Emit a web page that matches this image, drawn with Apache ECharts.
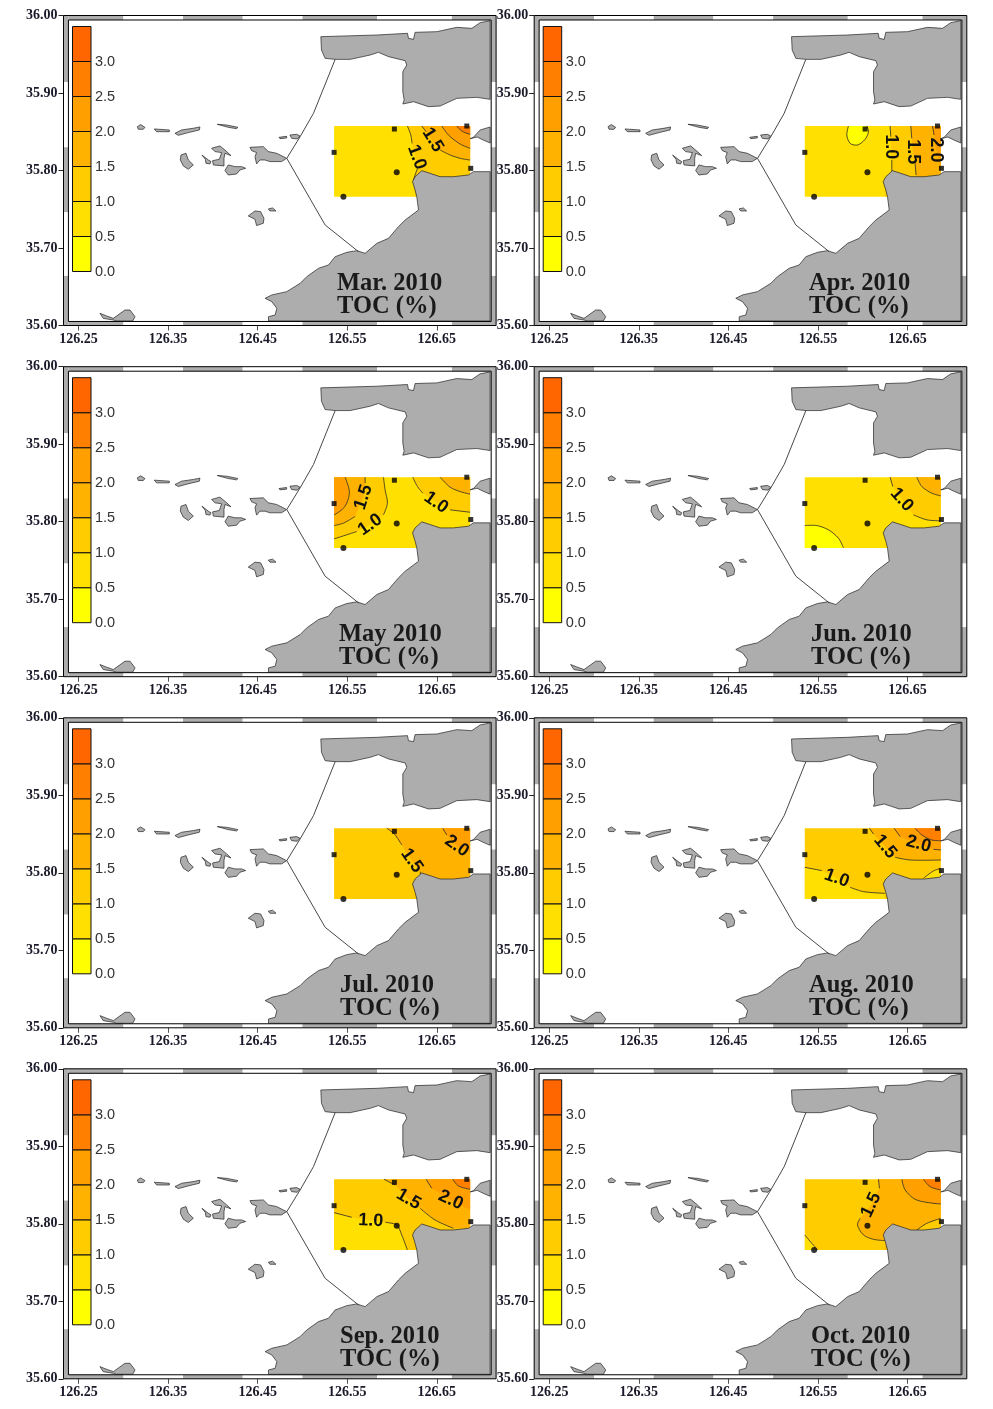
<!DOCTYPE html>
<html><head><meta charset="utf-8">
<style>html,body{margin:0;padding:0;background:#fff}#c{width:993px;height:1409px}</style>
<script src="https://cdn.jsdelivr.net/npm/echarts@6/dist/echarts.min.js"></script>
</head><body><div id="c"></div>
<script>
// Axis values
const lonMin = 126.2333, lonMax = 126.7161, latMin = 35.6, latMax = 36.0;
const lonTicks = [126.25, 126.35, 126.45, 126.55, 126.65];
const latTicks = [35.6, 35.7, 35.8, 35.9, 36.0];
// graduated frame breaks
const frameLons = [126.2388, 126.3002, 126.3667, 126.4333, 126.5, 126.5833, 126.6667, 126.7106];
const frameLats = [36.0, 35.914, 35.83, 35.746, 35.664, 35.6];
const innerLatN = 35.9942, innerLatS = 35.6052;
// colour scale
const scaleBreaks = [0, 0.5, 1, 1.5, 2, 2.5, 3, 3.5];
const scaleTicks = [0, 0.5, 1, 1.5, 2, 2.5, 3];
const scaleColors = ['#FFFF00', '#FFE000', '#FFCC00', '#FFB300', '#FF9F00', '#FF8000', '#FF6600'];
// land
const landNorth = [[126.7094,35.9933],[126.6983,35.9908],[126.689,35.9834],[126.6722,35.9847],[126.6499,35.9791],[126.6257,35.9783],[126.6239,35.9692],[126.6183,35.9705],[126.6172,35.977],[126.583,35.9748],[126.5205,35.9727],[126.5212,35.9555],[126.5253,35.9447],[126.5365,35.9434],[126.5532,35.9434],[126.5755,35.949],[126.5848,35.9525],[126.596,35.9469],[126.6146,35.9417],[126.6164,35.9361],[126.612,35.9275],[126.612,35.9017],[126.6135,35.891],[126.612,35.8858],[126.6239,35.8888],[126.6406,35.8824],[126.6536,35.8832],[126.6722,35.8931],[126.6946,35.8944],[126.7094,35.8918]];
const landEast = [[126.7094,35.8561],[126.6983,35.8523],[126.6908,35.8428],[126.6871,35.8411],[126.6949,35.8432],[126.7016,35.8394],[126.7094,35.8355]];
const landSouth = [[126.7094,35.7985],[126.6908,35.7985],[126.6853,35.7942],[126.6685,35.792],[126.6536,35.792],[126.6425,35.7963],[126.6332,35.7998],[126.6257,35.792],[126.6228,35.7856],[126.6257,35.7748],[126.6276,35.7662],[126.6295,35.749],[126.6146,35.7361],[126.6071,35.7275],[126.596,35.7125],[126.583,35.706],[126.5699,35.6931],[126.5606,35.6966],[126.5495,35.6944],[126.5365,35.6888],[126.529,35.6781],[126.5179,35.6738],[126.5048,35.663],[126.4974,35.6544],[126.4825,35.6437],[126.4658,35.6394],[126.4583,35.6351],[126.4658,35.6308],[126.4714,35.6222],[126.4695,35.6135],[126.4621,35.6114],[126.4621,35.6058],[126.7094,35.6058]];
const islands = [
 [[126.3157,35.8566],[126.3194,35.8592],[126.3242,35.8557],[126.3224,35.8532],[126.3168,35.8532]],
 [[126.3346,35.8536],[126.3514,35.8523],[126.3514,35.8501],[126.3372,35.8501]],
 [[126.3577,35.848],[126.3651,35.8523],[126.3782,35.8545],[126.3856,35.8562],[126.3849,35.8523],[126.3726,35.8489],[126.3614,35.8454]],
 [[126.4049,35.8596],[126.4154,35.8587],[126.428,35.8557],[126.4265,35.854],[126.4172,35.8557]],
 [[126.4738,35.8428],[126.4823,35.8441],[126.4823,35.842],[126.4749,35.8411]],
 [[126.486,35.8458],[126.4935,35.8467],[126.4972,35.8446],[126.4942,35.8407],[126.4879,35.8415]],
 [[126.4414,35.8299],[126.4563,35.8308],[126.4619,35.8244],[126.4712,35.8222],[126.4823,35.8157],[126.4767,35.8115],[126.4637,35.8115],[126.4581,35.8136],[126.4526,35.8136],[126.4488,35.8085],[126.447,35.8179],[126.4488,35.8231],[126.4433,35.8256]],
 [[126.3644,35.82],[126.37,35.8222],[126.3726,35.8136],[126.3782,35.8072],[126.3726,35.8016],[126.367,35.8059],[126.3637,35.8136]],
 [[126.3878,35.82],[126.3949,35.8136],[126.3979,35.8115],[126.3968,35.8085],[126.3923,35.8093],[126.3916,35.8145]],
 [[126.3986,35.8287],[126.4079,35.8317],[126.4154,35.8244],[126.4202,35.8192],[126.4135,35.8222],[126.4124,35.8157],[126.4124,35.8059],[126.4005,35.8072],[126.3997,35.8127],[126.4072,35.8145],[126.4098,35.8231],[126.4023,35.8244]],
 [[126.4135,35.8],[126.4172,35.8072],[126.4247,35.805],[126.4321,35.805],[126.4366,35.8029],[126.4302,35.8007],[126.4265,35.7955],[126.4172,35.7942]],
 [[126.4395,35.7414],[126.447,35.7478],[126.4533,35.7469],[126.457,35.7384],[126.4563,35.7319],[126.4488,35.7289],[126.447,35.7371]],
 [[126.4619,35.7504],[126.4667,35.7517],[126.4704,35.7478],[126.4637,35.7478]],
 [[126.274,35.6157],[126.2814,35.6123],[126.2889,35.6092],[126.3019,35.62],[126.3075,35.62],[126.3131,35.6114],[126.3105,35.6058],[126.2926,35.6058],[126.2889,35.6071],[126.2777,35.6092]]
];
const boundaryLine = [[126.5365,35.9434],[126.5123,35.8738],[126.4974,35.8437],[126.4825,35.8157],[126.5253,35.7297],[126.5625,35.6953]];
// stations
const stationsSquare = [[126.6026,35.8535],[126.5353,35.8234],[126.6834,35.8574],[126.6878,35.8028]];
const stationsRound = [[126.6052,35.7976],[126.5457,35.7662]];
// sampled field box
const W = 126.5353, E = 126.6871, N = 35.8574, S = 35.7662;
const panelNames = ['Mar. 2010','Apr. 2010','May 2010','Jun. 2010','Jul. 2010','Aug. 2010','Sep. 2010','Oct. 2010'];
const panelUnit = 'TOC (%)';
const panelBase = [1,1,1,1,2,2,2,2];
// contours: level index, contour points, closing corners, drawn segments, label
const marContours = [
 {lv:2,pts:[[126.6171,N],[126.6209,35.8458],[126.6223,35.835],[126.6257,35.8178],[126.6283,35.8028],[126.6238,35.7877],[126.6257,S]],close:[[E,S],[E,N]],segs:[[0,2],[4,5]],label:['1.0',126.6276,35.817,-70]},
 {lv:3,pts:[[126.6331,N],[126.638,35.8501],[126.6454,35.8372],[126.6536,35.8264],[126.6648,35.82],[126.6759,35.8157],[E,35.8135]],close:[[E,N]],segs:[[0,1],[3,6]],label:['1.5',126.6454,35.8393,-58]},
 {lv:4,pts:[[126.6555,N],[126.6629,35.8458],[126.6759,35.8342],[E,35.8286]],close:[[E,N]],segs:[[0,3]]},
 {lv:5,pts:[[126.6722,N],[126.6778,35.8509],[E,35.8466]],close:[[E,N]],segs:[[0,2]]}
];
const aprContours = [
 {lv:0,pts:[[126.584,N],[126.5822,35.8458],[126.5859,35.835],[126.5941,35.8329],[126.6026,35.8402],[126.6064,35.8501],[126.6045,N]],close:[],segs:[[0,6]]},
 {lv:2,pts:[[126.6305,N],[126.6313,35.8436],[126.6316,35.8264],[126.6324,35.8135],[126.6324,35.7985],[126.625,35.7877],[126.625,S]],close:[[E,S],[E,N]],segs:[[0,1],[3,4]],label:['1.0',126.6313,35.8307,-90]},
 {lv:3,pts:[[126.6536,N],[126.6547,35.8415],[126.6558,35.8243],[126.6584,35.8092],[126.6595,35.7942],[126.6595,S]],close:[[E,S],[E,N]],segs:[[0,1],[3,4]],label:['1.5',126.6558,35.8243,-90]},
 {lv:4,pts:[[126.6778,N],[126.6796,35.8458],[126.6819,35.8264],[E,35.8049]],close:[[E,N]],segs:[[0,1]],label:['2.0',126.6819,35.8264,-90]}
];
const mayContours = [
 {lv:2,pts:[[126.5904,N],[126.5922,35.8411],[126.5948,35.8239],[126.5904,35.8088],[126.5755,35.7959],[126.5606,35.7873],[126.5457,35.7817],[W,35.7778]],close:[[W,N]],segs:[[0,3],[5,7]],label:['1.0',126.5755,35.7959,35]},
 {lv:3,pts:[[126.5699,N],[126.5699,35.8497],[126.568,35.8316],[126.5587,35.8067],[126.5457,35.7981],[W,35.795]],close:[[W,N]],segs:[[0,1],[3,5]],label:['1.5',126.568,35.8316,72]},
 {lv:4,pts:[[126.5476,N],[126.5524,35.8389],[126.5494,35.8239],[126.5439,35.8153],[W,35.8088]],close:[[W,N]],segs:[[0,4]]},
 {lv:2,pts:[[126.6231,N],[126.6283,35.8454],[126.6343,35.8368],[126.6491,35.8247],[126.6648,35.8153],[E,35.8122]],close:[[E,N]],segs:[[0,2],[4,5]],label:['1.0',126.6491,35.8247,-35]},
 {lv:3,pts:[[126.6536,N],[126.6648,35.8445],[126.6759,35.8389],[E,35.8355]],close:[[E,N]],segs:[[0,3]]}
];
const junContours = [
 {lv:0,pts:[[W,35.795],[126.5487,35.795],[126.5617,35.7895],[126.5729,35.7787],[126.5785,S]],close:[[W,S]],segs:[[0,4]]},
 {lv:2,pts:[[126.6305,N],[126.6335,35.8454],[126.6436,35.8282],[126.6566,35.8088],[126.6715,35.8024],[E,35.8011]],close:[[E,N]],segs:[[0,1],[3,5]],label:['1.0',126.6436,35.8282,-48]},
 {lv:3,pts:[[126.6603,N],[126.6659,35.8454],[126.677,35.8368],[E,35.8333]],close:[[E,N]],segs:[[0,3]]}
];
const julContours = [
 {lv:3,pts:[[126.5941,N],[126.6026,35.8501],[126.6108,35.8359],[126.622,35.8157],[126.6313,35.8015],[126.6324,35.795],[126.6324,S]],close:[[E,S],[E,N]],segs:[[0,2],[4,5]],label:['1.5',126.622,35.8157,-55]},
 {lv:4,pts:[[126.6566,N],[126.661,35.8488],[126.6722,35.8346],[E,35.8273]],close:[[E,N]],segs:[[0,1]],label:['2.0',126.6722,35.8346,-35]}
];
const augContours = [
 {lv:1,pts:[[W,35.8071],[126.5543,35.8028],[126.571,35.7929],[126.5859,35.7813],[126.6008,35.7757],[126.625,35.7735],[126.625,S]],close:[[W,S]],segs:[[0,1],[3,5]],label:['1.0',126.571,35.7929,-20]},
 {lv:1,pts:[[126.6677,35.7929],[126.6789,35.8024],[E,35.8058]],close:[[E,35.7886],[126.6677,35.7886]],segs:[[0,2]]},
 {lv:3,pts:[[126.6075,N],[126.6119,35.8501],[126.625,35.8337],[126.6361,35.82],[126.6529,35.8165],[E,35.8165]],close:[[E,N]],segs:[[0,1],[3,5]],label:['1.5',126.625,35.8337,-50]},
 {lv:4,pts:[[126.635,N],[126.6417,35.8467],[126.6622,35.8372],[126.6789,35.8303],[E,35.8294]],close:[[E,N]],segs:[[0,1],[3,4]],label:['2.0',126.6622,35.8372,-15]},
 {lv:5,pts:[[126.6584,N],[126.6659,35.8488],[126.677,35.8423],[E,35.8415]],close:[[E,N]],segs:[[0,3]]}
];
const sepContours = [
 {lv:1,pts:[[W,35.8144],[126.555,35.8084],[126.5762,35.8041],[126.5922,35.8019],[126.6052,35.7985],[126.6108,35.7856],[126.6171,S]],close:[[W,S]],segs:[[0,1],[3,6]],label:['1.0',126.5762,35.8041,-3]},
 {lv:3,pts:[[126.5911,N],[126.6034,35.8501],[126.6183,35.8316],[126.6313,35.82],[126.648,35.8049],[126.6685,35.7942],[E,35.7942]],close:[[E,N]],segs:[[0,1],[3,5]],label:['1.5',126.6183,35.8316,-30]},
 {lv:4,pts:[[126.638,N],[126.6443,35.8458],[126.6655,35.8307],[E,35.8178]],close:[[E,N]],segs:[[0,1],[3,3]],label:['2.0',126.6655,35.8307,-25]},
 {lv:5,pts:[[126.6677,N],[126.6741,35.8488],[E,35.8445]],close:[[E,N]],segs:[[0,2]]}
];
const octContours = [
 {lv:1,pts:[[W,35.7856],[126.5431,35.7748],[126.5498,S]],close:[[W,S]],segs:[[0,2]]},
 {lv:3,pts:[[126.6175,N],[126.6186,35.8458],[126.6093,35.8243],[126.5971,35.8071],[126.5941,35.7985],[126.6008,35.7856],[126.6119,35.78],[126.625,35.7783],[126.625,S]],close:[[E,S],[E,N]],segs:[[0,1],[3,7]],label:['1.5',126.6093,35.8243,65]},
 {lv:2,pts:[[126.6603,35.792],[126.6715,35.8006],[E,35.8071]],close:[[E,35.7899],[126.6603,35.7899]],segs:[[0,2]]},
 {lv:4,pts:[[126.6436,N],[126.6473,35.8436],[126.6584,35.8316],[126.6733,35.8273],[E,35.8256]],close:[[E,N]],segs:[[0,4]]},
 {lv:5,pts:[[126.6677,N],[126.6752,35.8479],[E,35.8436]],close:[[E,N]],segs:[[0,2]]}
];
const panelContours = [marContours,aprContours,mayContours,junContours,julContours,augContours,sepContours,octContours];

// Layout
const colX = [63.5, 534.2], rowY = [15.5, 366.7, 717.8, 1068.8];
const mapW = 432.6, mapH = 310, barDX = 9, barDY = 11, barW = 18.5, barH = 245;
const titleLeft = [337, 809, 339, 811, 340, 809, 340, 811];
const SERIF = '"Liberation Serif","Times New Roman",serif', SANS = '"Liberation Sans",Arial,sans-serif';

const grids=[], xAxes=[], yAxes=[], series=[], titles=[];
function customSeries(gi, z, items, render){
  return {type:'custom',coordinateSystem:'cartesian2d',xAxisIndex:gi,yAxisIndex:gi,z,silent:true,clip:false,
    data:items.map((_, i)=>[lonTicks[0],latTicks[1]]),renderItem:(p,api)=>render(items[p.dataIndex],api)};
}
const polyEl=(pts,api,style)=>({type:'polygon',shape:{points:pts.map(c=>api.coord(c))},style});
const lineEl=(pts,api)=>({type:'polyline',shape:{points:pts.map(c=>api.coord(c)),smooth:pts.length>2?0.3:0},style:{fill:null,stroke:'#2a2a2a',lineWidth:0.8}});

panelNames.forEach((name,i)=>{
  const cx=colX[i%2], cy=rowY[Math.floor(i/2)];
  const g=grids.length;
  grids.push({left:cx,top:cy,width:mapW,height:mapH,containLabel:false});
  xAxes.push({gridIndex:g,type:'value',min:lonMin,max:lonMax,position:'bottom',splitLine:{show:false},axisLine:{show:false},
    axisTick:{show:true,length:5,customValues:lonTicks,lineStyle:{color:'#555',width:1}},
    axisLabel:{show:true,customValues:lonTicks,margin:7,formatter:v=>v.toFixed(2),fontFamily:SERIF,fontWeight:'bold',fontSize:14,color:'#1a1a2a'}});
  yAxes.push({gridIndex:g,type:'value',min:latMin,max:latMax,position:'left',splitLine:{show:false},axisLine:{show:false},
    axisTick:{show:true,length:5,customValues:latTicks,lineStyle:{color:'#222',width:1}},
    axisLabel:{show:true,customValues:latTicks,margin:6,formatter:v=>v.toFixed(2),fontFamily:SERIF,fontWeight:'bold',fontSize:14,color:'#1a1a2a'}});
  // field bands
  const cs=panelContours[i];
  const bands=[{lv:panelBase[i],pts:[[W,N],[E,N],[E,S],[W,S]]}].concat(cs.map(c=>({lv:c.lv,pts:c.pts.concat(c.close)})));
  series.push(customSeries(g,2,bands,(b,api)=>polyEl(b.pts,api,{fill:scaleColors[b.lv]})));
  // contour lines
  const segs=[];cs.forEach(c=>c.segs.forEach(s=>{if(s[1]>s[0])segs.push(c.pts.slice(s[0],s[1]+1));}));
  series.push(customSeries(g,3,segs,(s,api)=>lineEl(s,api)));
  // land
  const lands=[landNorth,landEast,landSouth].concat(islands);
  series.push(customSeries(g,4,lands,(l,api)=>polyEl(l,api,{fill:'#ADADAD',stroke:'#222',lineWidth:0.7})));
  series.push(customSeries(g,4,[boundaryLine],(s,api)=>({type:'polyline',shape:{points:s.map(c=>api.coord(c))},style:{fill:null,stroke:'#333',lineWidth:0.9}})));
  // labels
  const labs=cs.filter(c=>c.label).map(c=>c.label);
  series.push(customSeries(g,6,labs,(l,api)=>{const q=api.coord([l[1],l[2]]);return {type:'text',x:q[0],y:q[1],rotation:l[3]*Math.PI/180,
    style:{text:l[0],fill:'#111',font:'bold 18px '+SANS,align:'center',verticalAlign:'middle'}};}));
  // stations
  series.push({type:'scatter',xAxisIndex:g,yAxisIndex:g,z:7,silent:true,symbol:'rect',symbolSize:5,itemStyle:{color:'#000'},data:stationsSquare});
  series.push({type:'scatter',xAxisIndex:g,yAxisIndex:g,z:7,silent:true,symbol:'circle',symbolSize:6,itemStyle:{color:'#000'},data:stationsRound});
  // graduated frame
  const frame=[];
  for(let k=0;k<frameLons.length-1;k++){const fill=k%2?'#fff':'#ADADAD';
    frame.push({a:[frameLons[k],latMax],b:[frameLons[k+1],innerLatN],fill});
    frame.push({a:[frameLons[k],innerLatS],b:[frameLons[k+1],latMin],fill});}
  for(let k=0;k<frameLats.length-1;k++){const fill=k%2?'#fff':'#ADADAD';
    frame.push({a:[lonMin,frameLats[k]],b:[frameLons[0],frameLats[k+1]],fill});
    frame.push({a:[frameLons[frameLons.length-1],frameLats[k]],b:[lonMax,frameLats[k+1]],fill});}
  frame.push({a:[lonMin,latMax],b:[lonMax,latMin],fill:null});
  frame.push({a:[frameLons[0],innerLatN],b:[frameLons[frameLons.length-1],innerLatS],fill:null});
  series.push(customSeries(g,8,frame,(f,api)=>{const a=api.coord(f.a),b=api.coord(f.b);
    return {type:'rect',shape:{x:a[0],y:a[1],width:b[0]-a[0],height:b[1]-a[1]},style:f.fill?{fill:f.fill}:{fill:null,stroke:'#000',lineWidth:1}};}));
  titles.push({text:name+'\n'+panelUnit,left:titleLeft[i],top:cy+256,padding:0,textStyle:{fontFamily:SERIF,fontWeight:'bold',fontSize:24.5,lineHeight:23.5,color:'#1a1a1a'}});
});
panelNames.forEach((name,i)=>{
  const cx=colX[i%2], cy=rowY[Math.floor(i/2)];
  const g=grids.length;
  grids.push({left:cx+barDX,top:cy+barDY,width:barW,height:barH,containLabel:false});
  xAxes.push({gridIndex:g,type:'value',min:0,max:1,show:false});
  yAxes.push({gridIndex:g,type:'value',min:scaleBreaks[0],max:scaleBreaks[7],interval:0.5,position:'right',splitLine:{show:false},axisLine:{show:false},axisTick:{show:false},
    axisLabel:{show:true,customValues:scaleTicks,margin:4,padding:[2,0,0,0],formatter:v=>v.toFixed(1),fontFamily:SANS,fontSize:14.5,color:'#333'}});
  series.push({type:'custom',coordinateSystem:'cartesian2d',xAxisIndex:g,yAxisIndex:g,z:9,silent:true,clip:false,
    data:scaleColors.map((c,k)=>[0.5,scaleBreaks[k]]),
    renderItem:(p,api)=>{const k=p.dataIndex,a=api.coord([0,scaleBreaks[k+1]]),b=api.coord([1,scaleBreaks[k]]);
      return {type:'rect',shape:{x:a[0],y:a[1],width:b[0]-a[0],height:b[1]-a[1]},style:{fill:scaleColors[k],stroke:'#111',lineWidth:1}};}});
});
const chart=echarts.init(document.getElementById('c'),null,{renderer:'canvas'});
chart.setOption({animation:false,backgroundColor:'#fff',title:titles,grid:grids,xAxis:xAxes,yAxis:yAxes,series});
</script></body></html>
